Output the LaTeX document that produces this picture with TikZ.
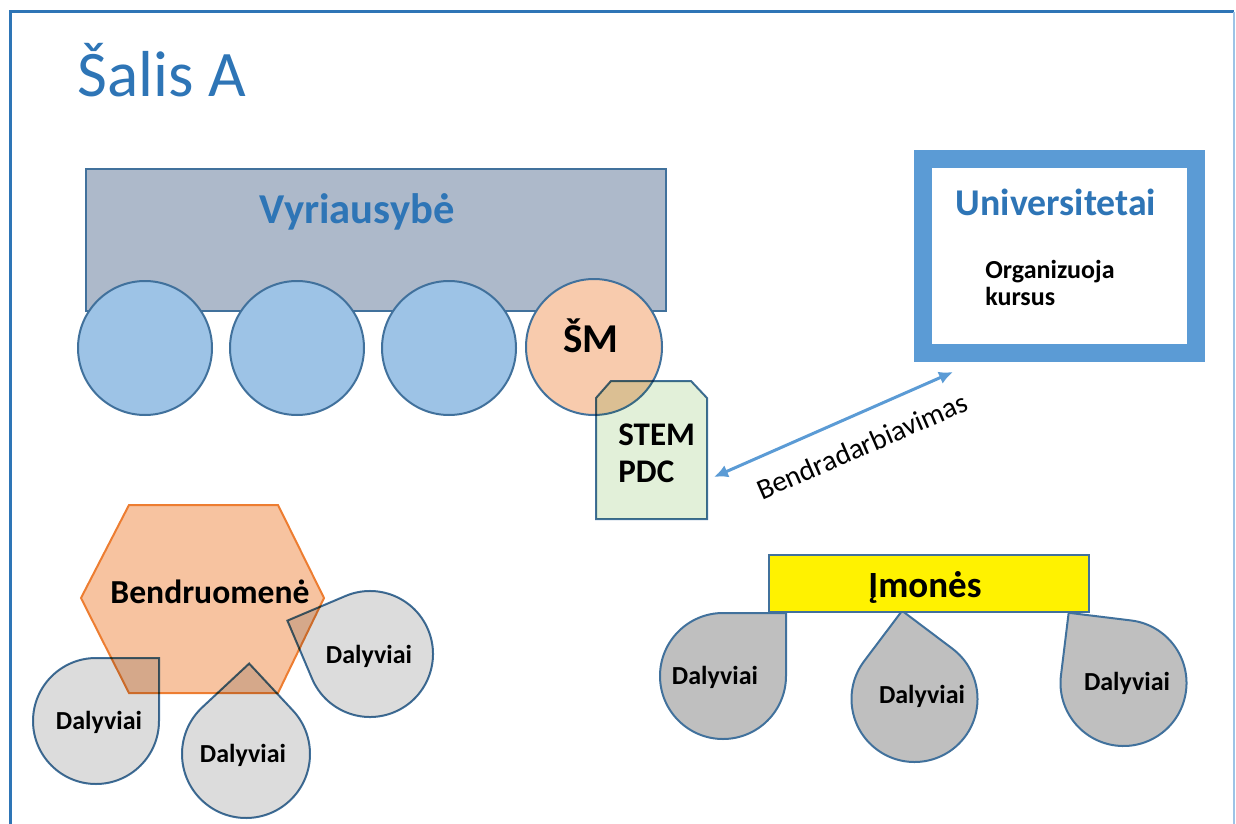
\documentclass[tikz,border=0pt]{standalone}
\usepackage{fontspec}
\setmainfont{Carlito}
\usetikzlibrary{arrows.meta}
\definecolor{frameblue}{HTML}{2E75B6}
\definecolor{lightframe}{HTML}{9DC3E6}
\definecolor{govfill}{HTML}{ADB9CA}
\definecolor{edgeblue}{HTML}{41719C}
\definecolor{circfill}{HTML}{9DC3E6}
\definecolor{smfill}{HTML}{F8CBAD}
\definecolor{stemfill}{HTML}{E2F0D9}
\definecolor{unibl}{HTML}{5B9BD5}
\definecolor{hexfill}{HTML}{F7C3A0}
\definecolor{hexedge}{HTML}{ED7D31}
\definecolor{dropL}{HTML}{DCDCDC}
\definecolor{dropR}{HTML}{BFBFBF}
\newcommand{\mydrop}[5]{% cx, cy, r, point angle, style
  \draw[#5] ([shift={({#4+45}:#3)}]#1,#2) arc[start angle={#4+45}, end angle={#4+315}, radius=#3]
    -- ([shift={(#4:{#3*1.4142})}]#1,#2) -- cycle;}
\begin{document}
\begin{tikzpicture}[x=0.5pt,y=-0.5pt,
  txt/.style={inner sep=0pt, anchor=base},
  bcirc/.style={circle, draw=edgeblue, fill=circfill, line width=1pt, minimum size=67pt, inner sep=0pt},
  dropl/.style={draw=edgeblue, fill=dropL, line width=1pt, blend mode=multiply},
  dropr/.style={draw=edgeblue, fill=dropR, line width=1pt},
  dal/.style={txt, font=\fontsize{13}{15}\selectfont\bfseries}
]
\useasboundingbox (0,0) rectangle (1236,824);
% frame
\draw[frameblue, line width=1.5pt] (10,824) -- (10,12) -- (1234,12);
\draw[lightframe, line width=1pt] (1234,12) -- (1234,824);
% title
\node[inner sep=0pt, anchor=base west, text=frameblue, font=\fontsize{32.5}{38}\selectfont] (title) at (77,97) {Šalis A};
% government
\node[draw=edgeblue, fill=govfill, line width=0.8pt, minimum width=290pt, minimum height=71pt, inner sep=0pt, anchor=north west] (gov) at (85,168) {};
\node[txt, text=frameblue, font=\fontsize{21.3}{25}\selectfont\bfseries] (govt) at (357,223) {Vyriausybė};
\node[bcirc] (c1) at (145,348) {};
\node[bcirc] (c2) at (297,348) {};
\node[bcirc] (c3) at (449,348) {};
\node[bcirc, fill=smfill, minimum size=68pt] (sm) at (594,347) {};
\node[txt, font=\fontsize{20.5}{24}\selectfont\bfseries] (smt) at (591,352) {ŠM};
% STEM PDC
\draw[draw=edgeblue, fill=stemfill, line width=1pt, blend mode=multiply] (596,398) -- (611,381) -- (691,381) -- (707,398) -- (707,519) -- (596,519) -- cycle;
\node[inner sep=0pt, anchor=base west, font=\fontsize{16.5}{18}\selectfont\bfseries] (stem1) at (618,445) {STEM};
\node[inner sep=0pt, anchor=base west, font=\fontsize{16.5}{18}\selectfont\bfseries] (stem2) at (618,482) {PDC};
% universities
\node[draw=unibl, line width=9pt, fill=white, minimum width=136.5pt, minimum height=97pt, inner sep=0pt] (univ) at (1059.5,256) {};
\node[txt, text=frameblue, font=\fontsize{18.9}{22}\selectfont\bfseries] (univt) at (1056,215) {Universitetai};
\node[inner sep=0pt, anchor=base west, font=\fontsize{13}{15}\selectfont\bfseries] (org1) at (985,278) {Organizuoja};
\node[inner sep=0pt, anchor=base west, font=\fontsize{13}{15}\selectfont\bfseries] (org2) at (985,305) {kursus};
% cooperation arrow
\coordinate (a1) at (714,477);
\coordinate (a2) at (953,372);
\draw[unibl, line width=1.5pt, {Latex[length=7pt,width=6.5pt]}-{Latex[length=7pt,width=6.5pt]}] (a1) -- (a2);
\node[txt, rotate=23.5, font=\fontsize{14.5}{17}\selectfont] (coop) at (866,455) {Bendradarbiavimas};
% community
\draw[draw=hexedge, fill=hexfill, line width=1pt] (81,598) -- (129,505) -- (278,505) -- (324,598) -- (278,693) -- (129,693) -- cycle;
\node[txt, font=\fontsize{16.8}{20}\selectfont\bfseries] (bend) at (210,603) {Bendruomenė};
\mydrop{96}{721}{63}{-45}{dropl}
\mydrop{246}{754}{64}{-88}{dropl}
\mydrop{370}{654}{63}{202}{dropl}
\node[dal] (d1) at (99,729) {Dalyviai};
\node[dal] (d2) at (243,762) {Dalyviai};
\node[dal] (d3) at (369,663) {Dalyviai};
% companies
\mydrop{723}{676}{63}{-45}{dropr}
\mydrop{914.5}{699}{63}{-98}{dropr}
\mydrop{1123.5}{683}{63}{-128}{dropr}
\node[draw=edgeblue, fill=yellow, line width=0.8pt, minimum width=160pt, minimum height=28.5pt, inner sep=0pt, anchor=north west] (imon) at (768,554) {};
\node[txt, font=\fontsize{18.5}{22}\selectfont\bfseries] (imont) at (925,597) {Įmonės};
\node[dal] (d4) at (715,684) {Dalyviai};
\node[dal] (d5) at (922,703) {Dalyviai};
\node[dal] (d6) at (1127,690) {Dalyviai};
\end{tikzpicture}
\end{document}
